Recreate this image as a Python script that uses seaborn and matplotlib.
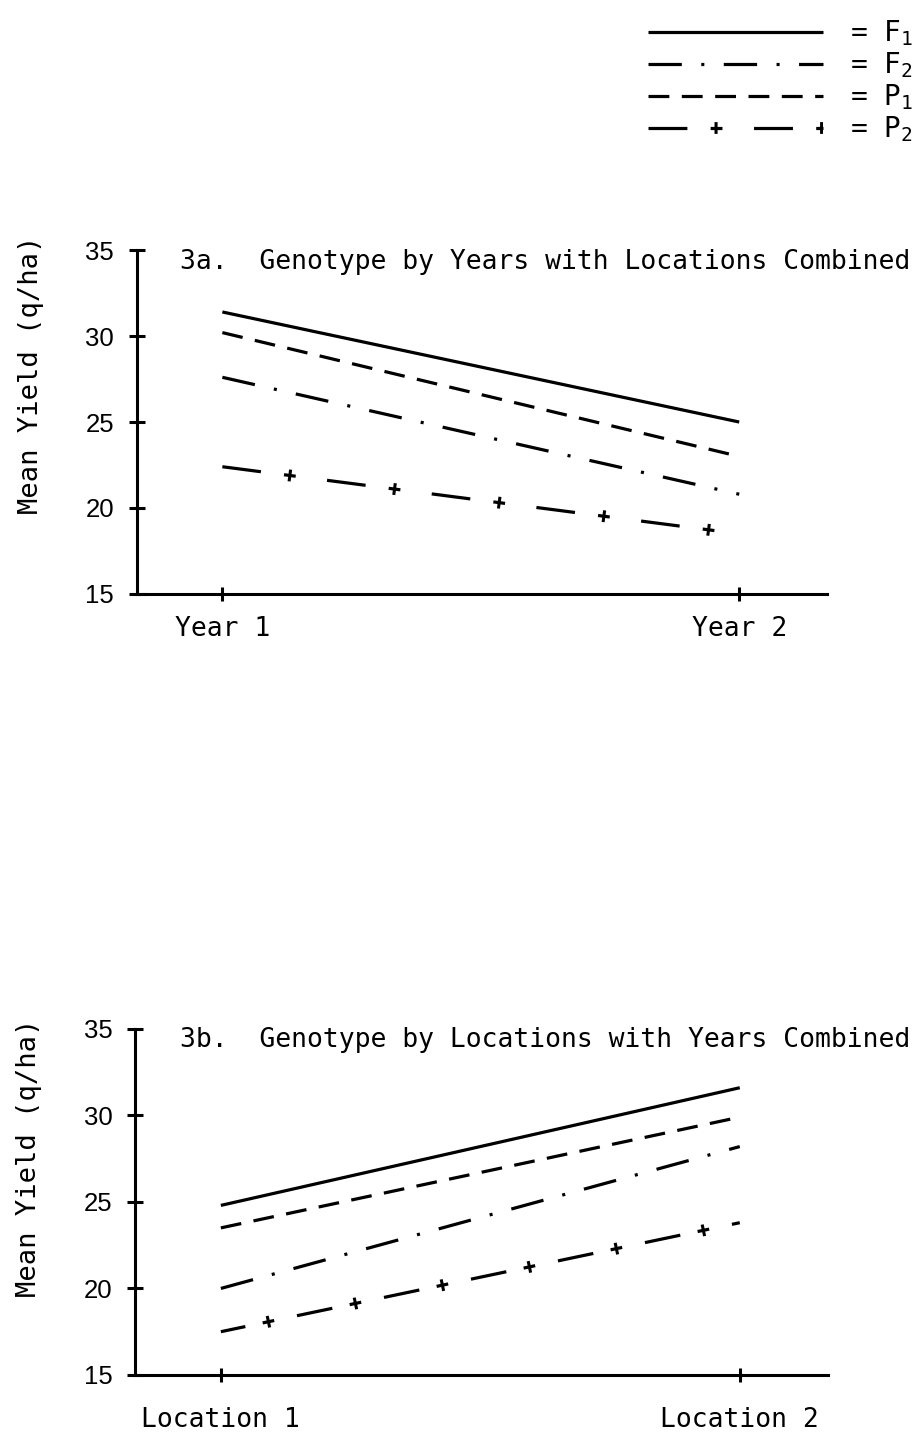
import matplotlib
matplotlib.use("Agg")
import matplotlib.pyplot as plt
from matplotlib.legend_handler import HandlerTuple
import pandas as pd
import seaborn as sns

# ---- data -------------------------------------------------------------
years = ["Year 1", "Year 2"]
locations = ["Location 1", "Location 2"]
genotypes = ["F1", "F2", "P1", "P2"]
legend_labels = [r"= $\mathregular{F_1}$", r"= $\mathregular{F_2}$",
                 r"= $\mathregular{P_1}$", r"= $\mathregular{P_2}$"]
ytick_values = [15, 20, 25, 30, 35]

# genotype by years, locations combined (q/ha)
f1_years = [31.4, 25.0]
f2_years = [27.6, 20.8]
p1_years = [30.2, 23.0]
p2_years = [22.4, 18.5]

# genotype by locations, years combined (q/ha)
f1_locs = [24.8, 31.6]
f2_locs = [20.0, 28.2]
p1_locs = [23.5, 29.9]
p2_locs = [17.5, 23.8]

title_a = "3a.  Genotype by Years with Locations Combined"
title_b = "3b.  Genotype by Locations with Years Combined"
ylabel = "Mean Yield (q/ha)"

# ---- style ------------------------------------------------------------
sns.set_style("white")
plt.rcParams.update({
    "font.family": ["DejaVu Sans Mono", "DejaVu Sans"],
    "mathtext.fontset": "custom",
    "mathtext.rm": "Liberation Sans",
    "lines.scale_dashes": False,
    "axes.linewidth": 2.2,
    "axes.edgecolor": "black",
    "axes.labelcolor": "black",
    "text.color": "black",
})
LW = 2.3
NUM_FONT = "Liberation Sans"


def plus_dash_styles(period, dash, center, phase, bar=8.5, stem=2.2):
    """Three overlaid dash patterns giving '— + — +' (dash, bar, stem)."""
    bar_start = center - bar / 2
    stem_start = center - stem / 2
    return [
        dict(linestyle=(phase % period, (dash, period - dash)), linewidth=LW),
        dict(linestyle=((phase - bar_start) % period, (bar, period - bar)),
             linewidth=LW),
        dict(linestyle=((phase - stem_start) % period, (stem, period - stem)),
             linewidth=8.5),
    ]


def draw_panel(ax, cats, values, p2_pattern, xpad):
    styles = {
        "F1": [dict(linestyle="-", linewidth=LW)],
        "F2": [dict(linestyle=(0, (24, 14, 2.2, 14)), linewidth=LW)],
        "P1": [dict(linestyle=(0, (15, 9)), linewidth=LW)],
        "P2": plus_dash_styles(*p2_pattern),
    }
    handles = []
    for name, vals in zip(genotypes, values):
        df = pd.DataFrame({"cat": cats, "yield": vals})
        group = []
        for st in styles[name]:
            sns.lineplot(data=df, x="cat", y="yield", ax=ax, color="black",
                         errorbar=None, dash_capstyle="butt",
                         solid_capstyle="butt", **st)
            group.append(ax.get_lines()[-1])
        handles.append(tuple(group) if len(group) > 1 else group[0])

    ax.set_ylim(ytick_values[0], ytick_values[-1])
    ax.set_xlim(-0.165, 1.17)
    ax.set_yticks(ytick_values)
    ax.set_yticklabels([str(v) for v in ytick_values], fontsize=18.5,
                       fontfamily=NUM_FONT)
    ax.set_xticks(range(len(cats)))
    ax.set_xticklabels(cats, fontsize=19)
    ax.tick_params(axis="y", direction="inout", length=11, width=2.2,
                   pad=11, colors="black", left=True)
    ax.tick_params(axis="x", direction="inout", length=10, width=2.2,
                   pad=xpad, colors="black", bottom=True)
    ax.set_xlabel("")
    ax.set_ylabel(ylabel, fontsize=19.5, color="black")
    sns.despine(ax=ax)
    return handles


fig = plt.figure(figsize=(9.2, 14.33), dpi=100)
ax_a = fig.add_axes([0.149, 0.5855, 0.750, 0.240])
ax_b = fig.add_axes([0.147, 0.0405, 0.753, 0.2415])

handles = draw_panel(ax_a, years, [f1_years, f2_years, p1_years, p2_years],
                     (76, 28, 49, 0), 11)
draw_panel(ax_b, locations, [f1_locs, f2_locs, p1_locs, p2_locs],
           (64, 26, 43, 8), 18)

ax_a.yaxis.set_label_coords(-0.135, 0.637)
ax_b.yaxis.set_label_coords(-0.135, 0.627)

ax_a.text(0.062, 0.965, title_a, transform=ax_a.transAxes, fontsize=19,
          ha="left", va="center", clip_on=False)
ax_b.text(0.065, 0.968, title_b, transform=ax_b.transAxes, fontsize=19,
          ha="left", va="center", clip_on=False)

fig.legend(handles, legend_labels, loc="upper left",
           bbox_to_anchor=(0.704, 0.987), frameon=False, fontsize=20,
           handlelength=6.3, handletextpad=1.0, labelspacing=0.08,
           borderpad=0, borderaxespad=0,
           handler_map={tuple: HandlerTuple(ndivide=1, pad=0)})

fig.savefig("out.png", dpi=100, facecolor="white")
